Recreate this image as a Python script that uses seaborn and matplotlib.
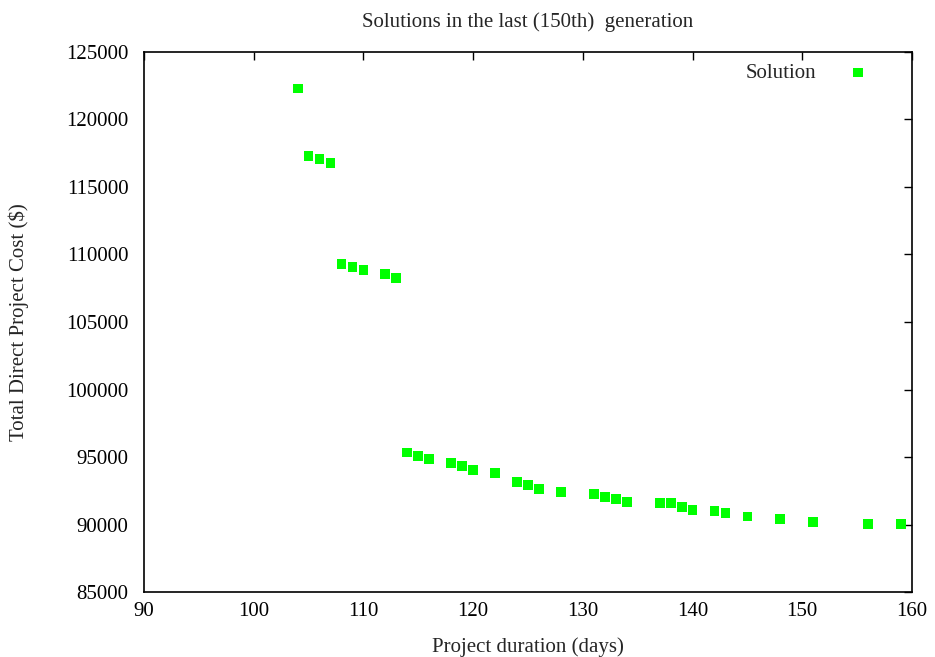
import matplotlib
matplotlib.use("Agg")
import matplotlib.pyplot as plt
import seaborn as sns
import pandas as pd

duration = [104, 105, 106, 107, 108, 109, 110, 112, 113,
            114, 115, 116, 118, 119, 120, 122, 124, 125, 126, 128,
            131, 132, 133, 134, 137, 138, 139, 140, 142, 143, 145,
            148, 151, 156, 159]
cost = [122300, 117270, 117050, 116750, 109270, 109050, 108830, 108530, 108240,
        95330, 95050, 94830, 94530, 94310, 94020, 93790, 93120, 92900, 92610, 92380,
        92230, 92010, 91870, 91640, 91570, 91570, 91270, 91050, 90980, 90830, 90600,
        90380, 90160, 90010, 90010]

df = pd.DataFrame({"duration": duration, "cost": cost})

sns.set_theme(style="white")
plt.rcParams["font.family"] = ["Liberation Serif", "DejaVu Serif"]

FS = 15
fig = plt.figure(figsize=(9.35, 6.57), dpi=100)
ax = fig.add_axes([0.154, 0.0989, 0.8214, 0.822])

sns.scatterplot(data=df, x="duration", y="cost", ax=ax, marker="s", s=50,
                color="#00ff00", edgecolor="none", linewidth=0, label="Solution")

ax.set_xlim(90, 160)
ax.set_ylim(85000, 125000)
ax.set_xticks(range(90, 161, 10))
ax.set_yticks(range(85000, 125001, 5000))
ax.tick_params(direction="in", length=6, width=1, top=True, right=True,
               labelsize=FS, colors="black")
ax.tick_params(axis="y", pad=11)
ax.tick_params(axis="x", pad=7)
for sp in ax.spines.values():
    sp.set_color("black")
    sp.set_linewidth(1.2)
ax.set_xlabel("Project duration (days)", fontsize=FS)
ax.xaxis.set_label_coords(0.5, -0.102)
ax.xaxis.label.set_va("center")
ax.set_ylabel("Total Direct Project Cost ($)", fontsize=FS)
ax.yaxis.set_label_coords(-0.163, 0.5)
ax.yaxis.label.set_va("center")
ax.set_title("Solutions in the last (150th)  generation", fontsize=FS,
             y=1.055, va="center", pad=0)
ax.legend(loc="upper right", frameon=False, markerfirst=False, fontsize=FS,
          handletextpad=1.0, bbox_to_anchor=(0.957, 0.979), borderaxespad=0,
          borderpad=0)

fig.savefig("out.png", dpi=100)
